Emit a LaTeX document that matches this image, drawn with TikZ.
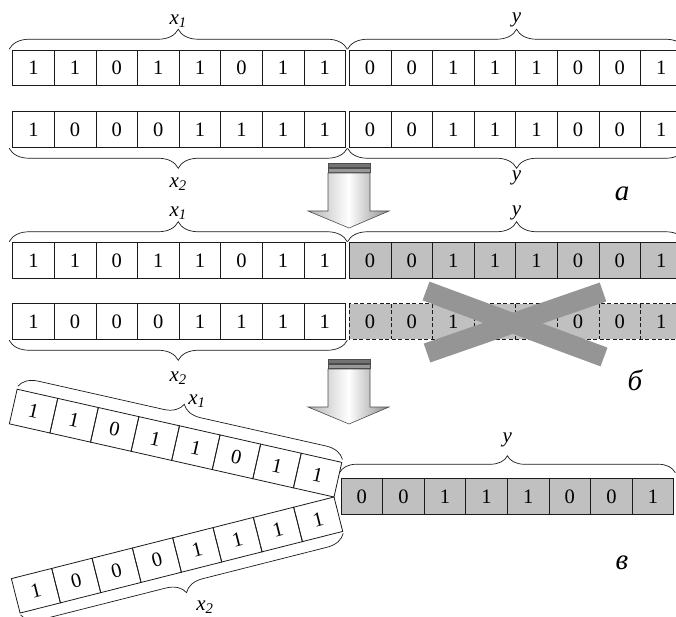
\documentclass[tikz,border=0pt]{standalone}
\usepackage{fontspec}
\setmainfont{Liberation Serif}
\usepackage{xcolor}
\definecolor{ink}{HTML}{1A1A1A}
\definecolor{cellgray}{HTML}{C0C0C0}
\definecolor{crossgray}{HTML}{959595}
\usepackage{tikz}
\usetikzlibrary{positioning, decorations.pathreplacing, calc}
\tikzset{
  cell/.style={draw=ink, line width=0.8pt, minimum width=41.6pt, minimum height=35.5pt,
    inner sep=0pt, outer sep=0pt, font=\fontsize{20.5}{20.5}\selectfont},
  keep/.style={cell, fill=cellgray},
  gone/.style={cell, draw=none, fill=cellgray},
  dashedge/.style={draw=ink, line width=0.8pt, dash pattern=on 4pt off 2.5pt},
  brace/.style={decorate, decoration={brace, amplitude=#1, raise=1pt}, line width=0.7pt, draw=ink},
  brace/.default=20pt,
  lbl/.style={font=\fontsize{21}{21}\selectfont\itshape, inner sep=0.5pt},
  partlbl/.style={font=\fontsize{29}{29}\selectfont\itshape, inner sep=0pt},
  crossbar/.style={crossgray, line width=20pt},
  fatarrow/.style={draw=black!70, line width=0.6pt, left color=black!30, right color=black!45,
    middle color=white},
}
\newcommand\bitrow[5]{% name, left edge, centre line, style, bits
  \foreach \b [count=\i] in {#5}
    \node[#4] (#1-\i) at ({#2+41.6*(\i-0.5)},#3) {\b};}
\newcommand\xsub[1]{\textit{x}\textsubscript{#1}}

\begin{document}
\begin{tikzpicture}[x=1pt, y=-1pt]
  \clip (0,0) rectangle (676,617);

  % a
  \bitrow{ax1}{12.7}{68}{cell}{1,1,0,1,1,0,1,1}
  \bitrow{ay1}{349.3}{68}{cell}{0,0,1,1,1,0,0,1}
  \bitrow{ax2}{12.7}{129.5}{cell}{1,0,0,0,1,1,1,1}
  \bitrow{ay2}{349.3}{129.5}{cell}{0,0,1,1,1,0,0,1}
  \draw[brace] ([xshift=-3.5pt]ax1-1.north west) -- node[lbl, midway, above=22pt] {\xsub{1}}
    ([xshift=1.8pt]ax1-8.north east);
  \draw[brace] ([xshift=-1.8pt]ay1-1.north west) -- node[lbl, midway, above=22pt] {y}
    ([xshift=3.5pt]ay1-8.north east);
  \draw[brace] ([xshift=1.8pt]ax2-8.south east) -- node[lbl, midway, below=30pt] {\xsub{2}}
    ([xshift=-3.5pt]ax2-1.south west);
  \draw[brace] ([xshift=3.5pt]ay2-8.south east) -- node[lbl, midway, below=23pt] {y}
    ([xshift=-1.8pt]ay2-1.south west);
  \node[partlbl] (pa) at (622,194) {а};

  % b
  \bitrow{bx1}{12.7}{260.5}{cell}{1,1,0,1,1,0,1,1}
  \bitrow{by1}{349.3}{260.5}{keep}{0,0,1,1,1,0,0,1}
  \bitrow{bx2}{12.7}{321.5}{cell}{1,0,0,0,1,1,1,1}
  \bitrow{by2}{349.3}{321.5}{gone}{0,0,1,1,1,0,0,1}
  \draw[dashedge] (by2-1.north west) rectangle (by2-8.south east);
  \foreach \i in {1,...,7}
    \draw[dashedge] (by2-\i.north east) -- (by2-\i.south east);
  \draw[brace] ([xshift=-3.5pt]bx1-1.north west) -- node[lbl, midway, above=22pt] {\xsub{1}}
    ([xshift=1.8pt]bx1-8.north east);
  \draw[brace] ([xshift=-1.8pt]by1-1.north west) -- node[lbl, midway, above=22pt] {y}
    ([xshift=3.5pt]by1-8.north east);
  \draw[brace] ([xshift=1.8pt]bx2-8.south east) -- node[lbl, midway, below=32pt] {\xsub{2}}
    ([xshift=-3.5pt]bx2-1.south west);
  \draw[crossbar] (426,291) -- (604,357);
  \draw[crossbar] (427,353) -- (603,292);
  \node[partlbl] (pb) at (635,380) {б};

  % v
  \bitrow{vy}{341}{496.5}{keep}{0,0,1,1,1,0,0,1}
  \draw[brace=17pt, decoration={raise=6pt}] ([xshift=-1.5pt]vy-1.north west)
    -- node[lbl, midway, above=31pt] {y} ([xshift=1.5pt]vy-8.north east);
  \coordinate (hinge) at (334,497);
  \node[cell, rotate=-12.7, anchor=south east] (cx1-8) at (hinge) {1};
  \foreach \b [count=\k, evaluate=\k as \i using int(8-\k), evaluate=\k as \n using int(9-\k)]
      in {1,0,1,1,0,1,1}
    \node[cell, rotate=-12.7, anchor=east] (cx1-\i) at (cx1-\n.west) {\b};
  \node[cell, rotate=14.2, anchor=north east] (cx2-8) at (hinge) {1};
  \foreach \b [count=\k, evaluate=\k as \i using int(8-\k), evaluate=\k as \n using int(9-\k)]
      in {1,1,1,0,0,0,1}
    \node[cell, rotate=14.2, anchor=east] (cx2-\i) at (cx2-\n.west) {\b};
  \draw[brace=19pt, decoration={raise=3pt}] (cx1-1.north west) -- (cx1-8.north east);
  \node[lbl] (lx1) at (197,401) {\xsub{1}};
  \draw[brace=19pt, decoration={raise=2pt}] (cx2-8.south east) -- (cx2-1.south west);
  \node[lbl] (lx2) at (205,607) {\xsub{2}};
  \node[partlbl] (pv) at (622,563) {в};

  % arrows
  \foreach \dy in {0,196} {
    \begin{scope}[shift={(0,\dy)}]
      \filldraw[fill=black!55, draw=black!70] (328,163) rectangle (370,167);
      \filldraw[fill=black!40, draw=black!70] (328,168.5) rectangle (370,172.5);
      \path[fatarrow] (328,173) -- (328,211) -- (308,211) -- (349,228) -- (389,211)
        -- (370,211) -- (370,173) -- cycle;
    \end{scope}}
\end{tikzpicture}
\end{document}
